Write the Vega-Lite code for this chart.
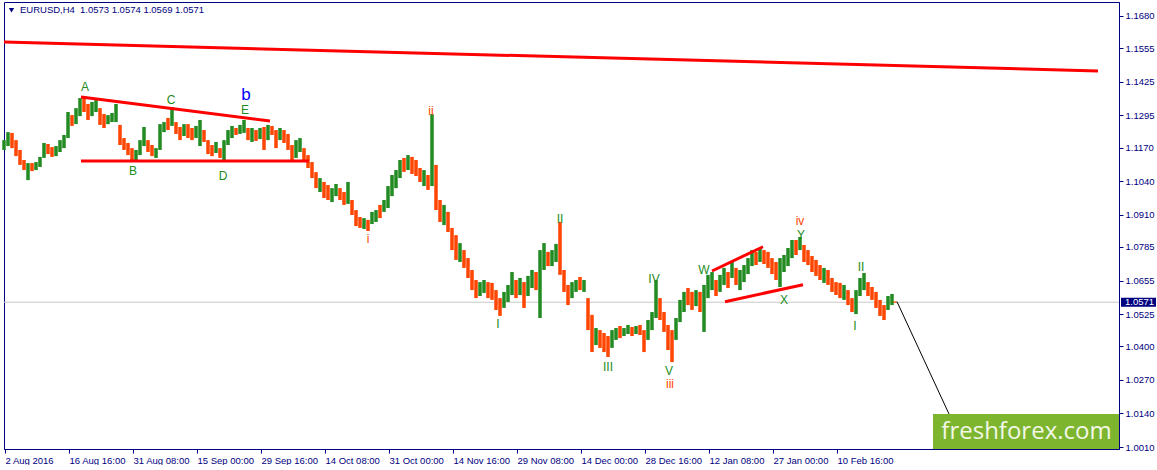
{
"$schema": "https://vega.github.io/schema/vega-lite/v6.json",
"width": 1115, "height": 447,
"padding": {"left": 2, "top": 2, "right": 0, "bottom": 0},
"background": "white",
"config": {"view": {"stroke": "#000080", "strokeWidth": 1}, "font": "Liberation Sans"},
"datasets": {
"bars": [
{"i":0,"h":1.1199,"l":1.1161,"d":"u"},{"i":4,"h":1.1230,"l":1.1176,"d":"u"},{"i":8,"h":1.1227,"l":1.1168,"d":"d"},{"i":12,"h":1.1199,"l":1.1137,"d":"d"},
{"i":16,"h":1.1161,"l":1.1103,"d":"d"},{"i":20,"h":1.1122,"l":1.1083,"d":"d"},{"i":24,"h":1.1110,"l":1.1044,"d":"u"},{"i":28,"h":1.1110,"l":1.1079,"d":"d"},
{"i":32,"h":1.1114,"l":1.1083,"d":"u"},{"i":36,"h":1.1134,"l":1.1095,"d":"u"},{"i":40,"h":1.1188,"l":1.1130,"d":"u"},{"i":44,"h":1.1184,"l":1.1145,"d":"d"},
{"i":48,"h":1.1172,"l":1.1134,"d":"d"},{"i":52,"h":1.1176,"l":1.1137,"d":"u"},{"i":56,"h":1.1199,"l":1.1153,"d":"u"},{"i":60,"h":1.1219,"l":1.1168,"d":"u"},
{"i":64,"h":1.1308,"l":1.1207,"d":"u"},{"i":68,"h":1.1296,"l":1.1254,"d":"d"},{"i":72,"h":1.1323,"l":1.1261,"d":"u"},{"i":76,"h":1.1362,"l":1.1292,"d":"u"},
{"i":80,"h":1.1366,"l":1.1308,"d":"d"},{"i":84,"h":1.1339,"l":1.1277,"d":"d"},{"i":88,"h":1.1347,"l":1.1292,"d":"u"},{"i":92,"h":1.1354,"l":1.1308,"d":"u"},
{"i":96,"h":1.1323,"l":1.1258,"d":"d"},{"i":100,"h":1.1300,"l":1.1246,"d":"d"},{"i":104,"h":1.1296,"l":1.1261,"d":"u"},{"i":108,"h":1.1304,"l":1.1269,"d":"u"},
{"i":112,"h":1.1339,"l":1.1269,"d":"u"},{"i":116,"h":1.1258,"l":1.1180,"d":"d"},{"i":120,"h":1.1207,"l":1.1161,"d":"d"},{"i":124,"h":1.1188,"l":1.1141,"d":"d"},
{"i":128,"h":1.1168,"l":1.1122,"d":"d"},{"i":132,"h":1.1161,"l":1.1122,"d":"u"},{"i":136,"h":1.1199,"l":1.1141,"d":"u"},{"i":140,"h":1.1250,"l":1.1176,"d":"u"},
{"i":144,"h":1.1199,"l":1.1153,"d":"d"},{"i":148,"h":1.1180,"l":1.1137,"d":"d"},{"i":152,"h":1.1168,"l":1.1130,"d":"u"},{"i":156,"h":1.1261,"l":1.1161,"d":"u"},
{"i":160,"h":1.1269,"l":1.1230,"d":"u"},{"i":164,"h":1.1285,"l":1.1238,"d":"d"},{"i":168,"h":1.1327,"l":1.1254,"d":"u"},{"i":172,"h":1.1269,"l":1.1223,"d":"d"},
{"i":176,"h":1.1250,"l":1.1199,"d":"d"},{"i":180,"h":1.1261,"l":1.1215,"d":"u"},{"i":184,"h":1.1261,"l":1.1207,"d":"d"},{"i":188,"h":1.1246,"l":1.1199,"d":"d"},
{"i":192,"h":1.1254,"l":1.1207,"d":"u"},{"i":196,"h":1.1277,"l":1.1176,"d":"u"},{"i":200,"h":1.1238,"l":1.1192,"d":"d"},{"i":204,"h":1.1199,"l":1.1145,"d":"d"},
{"i":208,"h":1.1180,"l":1.1137,"d":"d"},{"i":212,"h":1.1192,"l":1.1149,"d":"u"},{"i":216,"h":1.1168,"l":1.1130,"d":"d"},{"i":220,"h":1.1199,"l":1.1122,"d":"u"},
{"i":224,"h":1.1238,"l":1.1180,"d":"u"},{"i":228,"h":1.1254,"l":1.1207,"d":"u"},{"i":232,"h":1.1246,"l":1.1219,"d":"d"},{"i":236,"h":1.1258,"l":1.1223,"d":"u"},
{"i":240,"h":1.1277,"l":1.1227,"d":"u"},{"i":244,"h":1.1246,"l":1.1199,"d":"d"},{"i":248,"h":1.1246,"l":1.1192,"d":"u"},{"i":252,"h":1.1238,"l":1.1196,"d":"d"},
{"i":256,"h":1.1246,"l":1.1203,"d":"u"},{"i":260,"h":1.1250,"l":1.1161,"d":"d"},{"i":264,"h":1.1258,"l":1.1199,"d":"u"},{"i":268,"h":1.1254,"l":1.1219,"d":"d"},
{"i":272,"h":1.1238,"l":1.1168,"d":"d"},{"i":276,"h":1.1246,"l":1.1199,"d":"u"},{"i":280,"h":1.1238,"l":1.1188,"d":"d"},{"i":284,"h":1.1223,"l":1.1161,"d":"d"},
{"i":288,"h":1.1180,"l":1.1114,"d":"d"},{"i":292,"h":1.1199,"l":1.1130,"d":"u"},{"i":296,"h":1.1207,"l":1.1153,"d":"u"},{"i":300,"h":1.1168,"l":1.1122,"d":"d"},
{"i":304,"h":1.1141,"l":1.1091,"d":"d"},{"i":308,"h":1.1114,"l":1.1052,"d":"d"},{"i":312,"h":1.1075,"l":1.1013,"d":"d"},{"i":316,"h":1.1052,"l":1.0998,"d":"u"},
{"i":320,"h":1.1037,"l":1.0975,"d":"d"},{"i":324,"h":1.1025,"l":1.0967,"d":"d"},{"i":328,"h":1.1013,"l":1.0959,"d":"u"},{"i":332,"h":1.1029,"l":1.0982,"d":"u"},
{"i":336,"h":1.1013,"l":1.0967,"d":"d"},{"i":340,"h":1.0998,"l":1.0948,"d":"d"},{"i":344,"h":1.1037,"l":1.0952,"d":"u"},{"i":348,"h":1.0967,"l":1.0909,"d":"d"},
{"i":352,"h":1.0928,"l":1.0866,"d":"d"},{"i":356,"h":1.0901,"l":1.0859,"d":"d"},{"i":360,"h":1.0897,"l":1.0855,"d":"u"},{"i":364,"h":1.0890,"l":1.0847,"d":"d"},
{"i":368,"h":1.0921,"l":1.0874,"d":"u"},{"i":372,"h":1.0928,"l":1.0882,"d":"u"},{"i":376,"h":1.0948,"l":1.0897,"d":"d"},{"i":380,"h":1.0967,"l":1.0921,"d":"u"},
{"i":384,"h":1.1021,"l":1.0936,"d":"u"},{"i":388,"h":1.1064,"l":1.0982,"d":"u"},{"i":392,"h":1.1083,"l":1.1013,"d":"u"},{"i":396,"h":1.1122,"l":1.1052,"d":"u"},
{"i":400,"h":1.1130,"l":1.1076,"d":"d"},{"i":404,"h":1.1141,"l":1.1083,"d":"u"},{"i":408,"h":1.1134,"l":1.1068,"d":"d"},{"i":412,"h":1.1122,"l":1.1060,"d":"d"},
{"i":416,"h":1.1091,"l":1.1037,"d":"d"},{"i":420,"h":1.1083,"l":1.1021,"d":"u"},{"i":424,"h":1.1064,"l":1.1006,"d":"d"},{"i":428,"h":1.1300,"l":1.1021,"d":"u"},
{"i":432,"h":1.1103,"l":1.0928,"d":"d"},{"i":436,"h":1.0967,"l":1.0882,"d":"d"},{"i":440,"h":1.0948,"l":1.0870,"d":"u"},{"i":444,"h":1.0921,"l":1.0843,"d":"d"},
{"i":448,"h":1.0859,"l":1.0773,"d":"d"},{"i":452,"h":1.0831,"l":1.0735,"d":"d"},{"i":456,"h":1.0800,"l":1.0727,"d":"u"},{"i":460,"h":1.0773,"l":1.0704,"d":"d"},
{"i":464,"h":1.0742,"l":1.0665,"d":"d"},{"i":468,"h":1.0696,"l":1.0618,"d":"d"},{"i":472,"h":1.0657,"l":1.0587,"d":"d"},{"i":476,"h":1.0649,"l":1.0595,"d":"u"},
{"i":480,"h":1.0657,"l":1.0607,"d":"u"},{"i":484,"h":1.0649,"l":1.0587,"d":"d"},{"i":488,"h":1.0646,"l":1.0580,"d":"d"},{"i":492,"h":1.0618,"l":1.0541,"d":"d"},
{"i":496,"h":1.0587,"l":1.0518,"d":"d"},{"i":500,"h":1.0611,"l":1.0549,"d":"u"},{"i":504,"h":1.0638,"l":1.0572,"d":"u"},{"i":508,"h":1.0688,"l":1.0599,"d":"u"},
{"i":512,"h":1.0657,"l":1.0587,"d":"d"},{"i":516,"h":1.0665,"l":1.0599,"d":"u"},{"i":520,"h":1.0649,"l":1.0549,"d":"d"},{"i":524,"h":1.0673,"l":1.0595,"d":"u"},
{"i":528,"h":1.0696,"l":1.0626,"d":"u"},{"i":532,"h":1.0688,"l":1.0618,"d":"d"},{"i":536,"h":1.0773,"l":1.0510,"d":"u"},{"i":540,"h":1.0800,"l":1.0696,"d":"u"},
{"i":544,"h":1.0766,"l":1.0711,"d":"d"},{"i":548,"h":1.0773,"l":1.0711,"d":"u"},{"i":552,"h":1.0797,"l":1.0727,"d":"u"},{"i":556,"h":1.0882,"l":1.0677,"d":"d"},
{"i":560,"h":1.0696,"l":1.0611,"d":"d"},{"i":564,"h":1.0638,"l":1.0560,"d":"d"},{"i":568,"h":1.0649,"l":1.0587,"d":"u"},{"i":572,"h":1.0657,"l":1.0611,"d":"u"},
{"i":576,"h":1.0669,"l":1.0618,"d":"d"},{"i":580,"h":1.0657,"l":1.0611,"d":"u"},{"i":584,"h":1.0587,"l":1.0463,"d":"d"},{"i":588,"h":1.0522,"l":1.0378,"d":"d"},
{"i":592,"h":1.0471,"l":1.0405,"d":"u"},{"i":596,"h":1.0463,"l":1.0394,"d":"d"},{"i":600,"h":1.0452,"l":1.0378,"d":"d"},{"i":604,"h":1.0440,"l":1.0359,"d":"d"},
{"i":608,"h":1.0463,"l":1.0394,"d":"u"},{"i":612,"h":1.0471,"l":1.0425,"d":"u"},{"i":616,"h":1.0479,"l":1.0432,"d":"d"},{"i":620,"h":1.0471,"l":1.0440,"d":"u"},
{"i":624,"h":1.0483,"l":1.0448,"d":"u"},{"i":628,"h":1.0475,"l":1.0440,"d":"d"},{"i":632,"h":1.0479,"l":1.0448,"d":"u"},{"i":636,"h":1.0483,"l":1.0444,"d":"d"},
{"i":640,"h":1.0463,"l":1.0378,"d":"d"},{"i":644,"h":1.0502,"l":1.0425,"d":"u"},{"i":648,"h":1.0533,"l":1.0463,"d":"u"},{"i":652,"h":1.0657,"l":1.0510,"d":"u"},
{"i":656,"h":1.0587,"l":1.0502,"d":"d"},{"i":660,"h":1.0533,"l":1.0456,"d":"d"},{"i":664,"h":1.0483,"l":1.0386,"d":"d"},{"i":668,"h":1.0463,"l":1.0339,"d":"d"},
{"i":672,"h":1.0510,"l":1.0425,"d":"u"},{"i":676,"h":1.0580,"l":1.0494,"d":"u"},{"i":680,"h":1.0611,"l":1.0533,"d":"u"},{"i":684,"h":1.0626,"l":1.0560,"d":"d"},
{"i":688,"h":1.0611,"l":1.0541,"d":"d"},{"i":692,"h":1.0618,"l":1.0556,"d":"u"},{"i":696,"h":1.0611,"l":1.0533,"d":"d"},{"i":700,"h":1.0638,"l":1.0456,"d":"u"},
{"i":704,"h":1.0677,"l":1.0587,"d":"u"},{"i":708,"h":1.0688,"l":1.0618,"d":"u"},{"i":712,"h":1.0657,"l":1.0595,"d":"d"},{"i":716,"h":1.0677,"l":1.0611,"d":"u"},
{"i":720,"h":1.0704,"l":1.0638,"d":"u"},{"i":724,"h":1.0688,"l":1.0626,"d":"d"},{"i":728,"h":1.0727,"l":1.0665,"d":"u"},{"i":732,"h":1.0704,"l":1.0638,"d":"d"},
{"i":736,"h":1.0696,"l":1.0618,"d":"u"},{"i":740,"h":1.0715,"l":1.0649,"d":"u"},{"i":744,"h":1.0742,"l":1.0680,"d":"u"},{"i":748,"h":1.0773,"l":1.0711,"d":"u"},
{"i":752,"h":1.0766,"l":1.0715,"d":"d"},{"i":756,"h":1.0781,"l":1.0727,"d":"u"},{"i":760,"h":1.0773,"l":1.0719,"d":"d"},{"i":764,"h":1.0766,"l":1.0704,"d":"d"},
{"i":768,"h":1.0742,"l":1.0680,"d":"d"},{"i":772,"h":1.0727,"l":1.0657,"d":"d"},{"i":776,"h":1.0742,"l":1.0630,"d":"u"},{"i":780,"h":1.0754,"l":1.0688,"d":"u"},
{"i":784,"h":1.0781,"l":1.0711,"d":"u"},{"i":788,"h":1.0812,"l":1.0742,"d":"u"},{"i":792,"h":1.0812,"l":1.0754,"d":"d"},{"i":796,"h":1.0824,"l":1.0773,"d":"u"},
{"i":800,"h":1.0793,"l":1.0727,"d":"d"},{"i":804,"h":1.0773,"l":1.0715,"d":"d"},{"i":808,"h":1.0750,"l":1.0688,"d":"d"},{"i":812,"h":1.0735,"l":1.0673,"d":"d"},
{"i":816,"h":1.0715,"l":1.0657,"d":"d"},{"i":820,"h":1.0704,"l":1.0646,"d":"u"},{"i":824,"h":1.0696,"l":1.0638,"d":"d"},{"i":828,"h":1.0665,"l":1.0611,"d":"d"},
{"i":832,"h":1.0649,"l":1.0599,"d":"d"},{"i":836,"h":1.0646,"l":1.0587,"d":"d"},{"i":840,"h":1.0638,"l":1.0580,"d":"u"},{"i":844,"h":1.0618,"l":1.0560,"d":"d"},
{"i":848,"h":1.0587,"l":1.0533,"d":"d"},{"i":852,"h":1.0618,"l":1.0525,"d":"u"},{"i":856,"h":1.0665,"l":1.0595,"d":"u"},{"i":860,"h":1.0684,"l":1.0618,"d":"u"},
{"i":864,"h":1.0649,"l":1.0595,"d":"d"},{"i":868,"h":1.0630,"l":1.0580,"d":"d"},{"i":872,"h":1.0611,"l":1.0549,"d":"d"},{"i":876,"h":1.0580,"l":1.0518,"d":"d"},
{"i":880,"h":1.0560,"l":1.0502,"d":"d"},{"i":884,"h":1.0595,"l":1.0541,"d":"u"},{"i":888,"h":1.0603,"l":1.0560,"d":"u"},{"i":891,"h":1.0574,"l":1.0569,"d":"d"}
],
"lines": [
{"x1":0,"y1":1.1579,"x2":1094,"y2":1.1467},
{"x1":77,"y1":1.1366,"x2":266,"y2":1.1273},
{"x1":77,"y1":1.1118,"x2":305,"y2":1.1118},
{"x1":708,"y1":1.0692,"x2":759,"y2":1.0786},
{"x1":721,"y1":1.0573,"x2":799,"y2":1.0639}
],
"labels": [
{"i":81,"p":1.1405,"t":"A","k":"g"},{"i":129,"p":1.1079,"t":"B","k":"g"},{"i":167,"p":1.1354,"t":"C","k":"g"},
{"i":219,"p":1.1060,"t":"D","k":"g"},{"i":241,"p":1.1317,"t":"E","k":"g"},
{"i":364,"p":1.0816,"t":"i","k":"r"},{"i":427,"p":1.1312,"t":"ii","k":"r"},
{"i":494,"p":1.0487,"t":"I","k":"g"},{"i":556,"p":1.0893,"t":"II","k":"g"},{"i":604,"p":1.0320,"t":"III","k":"g"},
{"i":650,"p":1.0661,"t":"IV","k":"g"},{"i":665,"p":1.0305,"t":"V","k":"g"},{"i":666,"p":1.0254,"t":"iii","k":"r"},
{"i":700,"p":1.0696,"t":"W","k":"g"},{"i":780,"p":1.0580,"t":"X","k":"g"},{"i":796,"p":1.0884,"t":"iv","k":"r"},
{"i":797,"p":1.0833,"t":"Y","k":"g"},{"i":857,"p":1.0708,"t":"II","k":"g"},{"i":851,"p":1.0479,"t":"I","k":"g"}
]
},
"layer": [
{
"data": {"values": [{"p": 1.0571}]},
"mark": {"type": "rule", "color": "#c8c8c8", "strokeWidth": 1},
"encoding": {
"y": {"field": "p", "type": "quantitative", "scale": {"domain": [1.00024, 1.17341], "nice": false, "zero": false},
"axis": {"orient": "right", "title": null, "grid": false, "values": [1.001,1.014,1.027,1.04,1.0525,1.0655,1.0785,1.091,1.104,1.117,1.1295,1.1425,1.1555,1.168], "tickCount": 30, "format": ".4f", "labelOverlap": false, "labelBound": false, "labelFlush": false, "tickSize": 4, "labelPadding": 2, "labelFont": "Liberation Sans", "labelFontSize": 9.5, "labelColor": "#000080", "tickColor": "#000080", "domainColor": "#000080"}}
}
},
{
"data": {"name": "bars"},
"mark": {"type": "rule", "strokeWidth": 3.5},
"encoding": {
"x": {"field": "i", "type": "quantitative", "scale": {"domain": [0, 1115], "nice": false, "zero": false},
"axis": {"orient": "bottom", "title": null, "grid": false, "values": [1,65,129,193,257,321,385,449,513,577,641,705,769,833], "tickCount": 40,
"labelExpr": "['2 Aug 2016','16 Aug 16:00','31 Aug 08:00','15 Sep 00:00','29 Sep 16:00','14 Oct 08:00','31 Oct 00:00','14 Nov 16:00','29 Nov 08:00','14 Dec 00:00','28 Dec 16:00','12 Jan 08:00','27 Jan 00:00','10 Feb 16:00'][round((datum.value-1)/64)]",
"labelAlign": "left", "labelFlush": false, "labelOverlap": false, "labelBound": false, "tickSize": 4, "labelPadding": 2, "labelFont": "Liberation Sans", "labelFontSize": 9.5, "labelColor": "#000080", "tickColor": "#000080", "domainColor": "#000080"}},
"y": {"field": "h", "type": "quantitative", "scale": {"domain": [1.00024, 1.17341], "nice": false, "zero": false}},
"y2": {"field": "l"},
"color": {"field": "d", "type": "nominal", "scale": {"domain": ["u","d"], "range": ["#228b22","#ff4500"]}, "legend": null}
}
},
{
"data": {"name": "lines"},
"mark": {"type": "rule", "color": "#ff0000", "strokeWidth": 3},
"encoding": {
"x": {"field": "x1", "type": "quantitative", "scale": {"domain": [0, 1115], "nice": false, "zero": false}},
"x2": {"field": "x2"},
"y": {"field": "y1", "type": "quantitative", "scale": {"domain": [1.00024, 1.17341], "nice": false, "zero": false}},
"y2": {"field": "y2"}
}
},
{
"data": {"values": [{"x1": 893, "y1": 1.0573, "x2": 945, "y2": 1.0138}]},
"mark": {"type": "rule", "color": "#000000", "strokeWidth": 1},
"encoding": {
"x": {"field": "x1", "type": "quantitative", "scale": {"domain": [0, 1115], "nice": false, "zero": false}},
"x2": {"field": "x2"},
"y": {"field": "y1", "type": "quantitative", "scale": {"domain": [1.00024, 1.17341], "nice": false, "zero": false}},
"y2": {"field": "y2"}
}
},
{
"data": {"name": "labels"},
"mark": {"type": "text", "font": "Liberation Sans", "fontSize": 12, "align": "center", "baseline": "middle"},
"encoding": {
"x": {"field": "i", "type": "quantitative", "scale": {"domain": [0, 1115], "nice": false, "zero": false}},
"y": {"field": "p", "type": "quantitative", "scale": {"domain": [1.00024, 1.17341], "nice": false, "zero": false}},
"text": {"field": "t"},
"color": {"field": "k", "type": "nominal", "scale": {"domain": ["g","r"], "range": ["#6ee060","#f0105a"]}, "legend": null}
}
},
{
"data": {"values": [{"i": 242, "p": 1.1372, "t": "b"}]},
"mark": {"type": "text", "font": "Liberation Sans", "fontSize": 17, "align": "center", "baseline": "middle", "color": "#0000ff"},
"encoding": {
"x": {"field": "i", "type": "quantitative", "scale": {"domain": [0, 1115], "nice": false, "zero": false}},
"y": {"field": "p", "type": "quantitative", "scale": {"domain": [1.00024, 1.17341], "nice": false, "zero": false}},
"text": {"field": "t"}
}
},
{
"data": {"values": [{"a": 929, "b": 1115, "lo": 1.00024, "hi": 1.0138}]},
"mark": {"type": "rect", "color": "#7db52f"},
"encoding": {
"x": {"field": "a", "type": "quantitative", "scale": {"domain": [0, 1115], "nice": false, "zero": false}},
"x2": {"field": "b"},
"y": {"field": "lo", "type": "quantitative", "scale": {"domain": [1.00024, 1.17341], "nice": false, "zero": false}},
"y2": {"field": "hi"}
}
},
{
"data": {"values": [{"i": 1022.5, "p": 1.0041, "t": "freshforex.com"}]},
"mark": {"type": "text", "font": "Open Sans", "fontSize": 24, "align": "center", "baseline": "alphabetic", "color": "#f2f7e6"},
"encoding": {
"x": {"field": "i", "type": "quantitative", "scale": {"domain": [0, 1115], "nice": false, "zero": false}},
"y": {"field": "p", "type": "quantitative", "scale": {"domain": [1.00024, 1.17341], "nice": false, "zero": false}},
"text": {"field": "t"}
}
},
{
"data": {"values": [{"i": 7.5, "p": 1.1702}]},
"mark": {"type": "point", "shape": "triangle-down", "filled": true, "size": 28, "color": "#000080", "opacity": 1},
"encoding": {
"x": {"field": "i", "type": "quantitative", "scale": {"domain": [0, 1115], "nice": false, "zero": false}},
"y": {"field": "p", "type": "quantitative", "scale": {"domain": [1.00024, 1.17341], "nice": false, "zero": false}}
}
},
{
"data": {"values": [{"i": 16, "p": 1.1703, "t": "EURUSD,H4"}, {"i": 76, "p": 1.1703, "t": "1.0573 1.0574 1.0569 1.0571"}]},
"mark": {"type": "text", "font": "Liberation Sans", "fontSize": 9.5, "align": "left", "baseline": "middle", "color": "#000080"},
"encoding": {
"x": {"field": "i", "type": "quantitative", "scale": {"domain": [0, 1115], "nice": false, "zero": false}},
"y": {"field": "p", "type": "quantitative", "scale": {"domain": [1.00024, 1.17341], "nice": false, "zero": false}},
"text": {"field": "t"}
}
},
{
"data": {"values": [{"a": 1117, "b": 1152, "lo": 1.0553, "hi": 1.0588}]},
"mark": {"type": "rect", "color": "#000080"},
"encoding": {
"x": {"field": "a", "type": "quantitative", "scale": {"domain": [0, 1115], "nice": false, "zero": false}},
"x2": {"field": "b"},
"y": {"field": "lo", "type": "quantitative", "scale": {"domain": [1.00024, 1.17341], "nice": false, "zero": false}},
"y2": {"field": "hi"}
}
},
{
"data": {"values": [{"i": 1121, "p": 1.0571, "t": "1.0571"}]},
"mark": {"type": "text", "font": "Liberation Sans", "fontSize": 9.5, "align": "left", "baseline": "middle", "color": "#ffffff"},
"encoding": {
"x": {"field": "i", "type": "quantitative", "scale": {"domain": [0, 1115], "nice": false, "zero": false}},
"y": {"field": "p", "type": "quantitative", "scale": {"domain": [1.00024, 1.17341], "nice": false, "zero": false}},
"text": {"field": "t"}
}
}
]
}
